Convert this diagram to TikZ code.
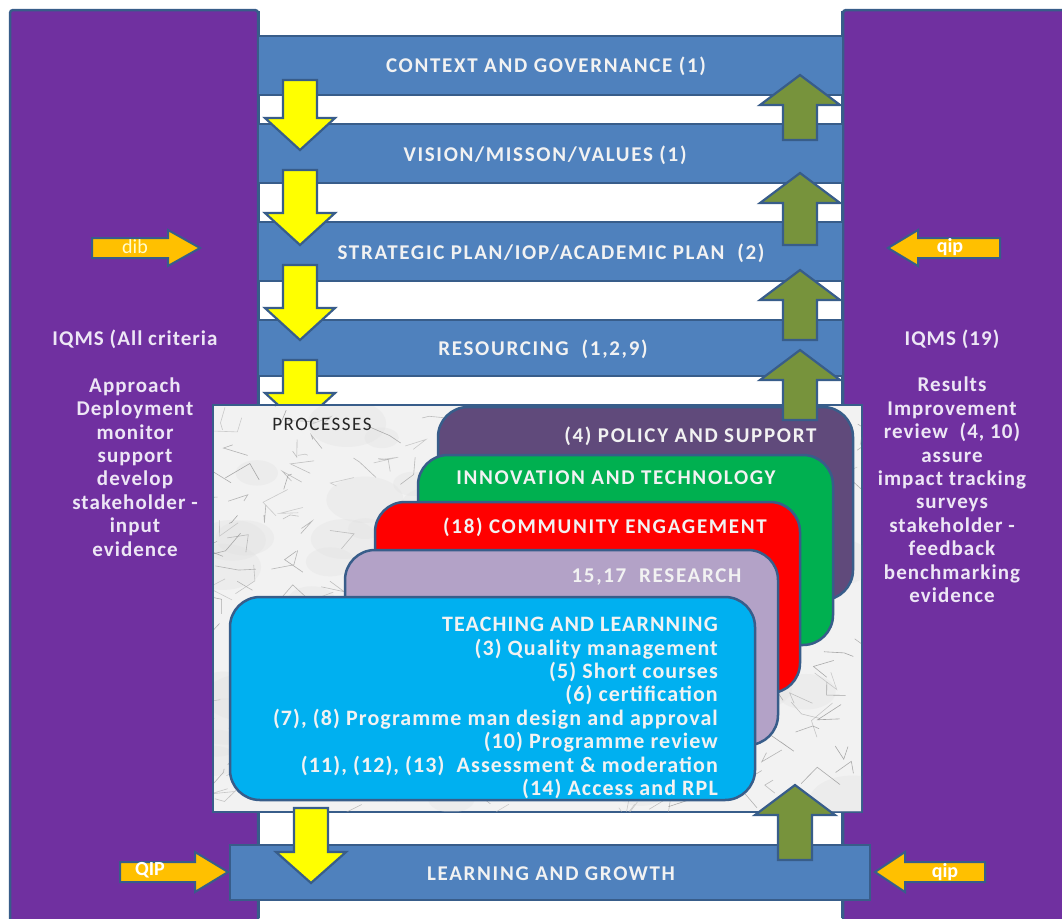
\documentclass[tikz,border=0pt]{standalone}
\usepackage{fontspec}
\setmainfont{Carlito}
\newfontfamily\bandfont[LetterSpace=8]{Carlito}
\newfontfamily\panelfont[LetterSpace=5]{Carlito}
\newfontfamily\teachfont[LetterSpace=5]{Carlito}
\newfontfamily\procfont[LetterSpace=8]{Carlito}
\definecolor{panelpurple}{HTML}{7030A0}
\definecolor{bandblue}{HTML}{4F81BD}
\definecolor{edgeblue}{HTML}{385D8A}
\definecolor{arrowyellow}{HTML}{FFFF00}
\definecolor{arrowgreen}{HTML}{77933C}
\definecolor{arroworange}{HTML}{FFC000}
\definecolor{policycol}{HTML}{604A7B}
\definecolor{innovcol}{HTML}{00B050}
\definecolor{commcol}{HTML}{FF0000}
\definecolor{rescol}{HTML}{B3A2C7}
\definecolor{teachcol}{HTML}{00B0F0}
\definecolor{paneltext}{HTML}{EDE6F5}
\definecolor{bandtext}{HTML}{F2F2F2}
\newcommand\ydownarrow[4]{% cx, top, headbase, tip
  \draw[edgeblue, line width=2.2pt, fill=arrowyellow, line join=miter]
    (#1-17,#2) -- (#1+17,#2) -- (#1+17,#3) -- (#1+35,#3) -- (#1,#4) -- (#1-35,#3) -- (#1-17,#3) -- cycle;}
\newcommand\gteupward[4]{% cx, bottom, headbase, tip
  \draw[edgeblue, line width=2.2pt, fill=arrowgreen, line join=miter]
    (#1-17,#2) -- (#1+17,#2) -- (#1+17,#3) -- (#1+40,#3) -- (#1,#4) -- (#1-40,#3) -- (#1-17,#3) -- cycle;}
\tikzset{
  bandbox/.style={draw=edgeblue, line width=2.5pt, fill=bandblue},
  bandlabel/.style={text=bandtext, font=\bandfont\bfseries\fontsize{21}{24}\selectfont},
  paneltxt/.style={text=paneltext, align=center, font=\panelfont\bfseries\fontsize{21}{23.4}\selectfont},
  procbox/.style={draw=edgeblue, line width=2.5pt, rounded corners=30},
  proclabel/.style={text=bandtext, font=\bandfont\bfseries\fontsize{21}{24}\selectfont},
  orangearrow/.style={draw=edgeblue, line width=2pt, fill=arroworange, line join=miter},
  orangelabel/.style={text=white, font=\bfseries\fontsize{20}{22}\selectfont}
}
\begin{document}
\begin{tikzpicture}[x=1pt,y=-1pt]
\useasboundingbox[fill=white] (0,0) rectangle (1062,918);
% side panels
\draw[draw=edgeblue, line width=2.5pt, fill=panelpurple, rounded corners=3] (10,10) rectangle (258,930);
\draw[draw=edgeblue, line width=2.5pt, fill=panelpurple, rounded corners=3] (843,10) rectangle (1075,930);
% central white column
\fill[white] (259,11) rectangle (842,918);
\draw[edgeblue, line width=1.5pt] (259,11) -- (259,918) (842,11) -- (842,918);
% bands
\draw[bandbox] (258,36) rectangle (843,95);
\node[bandlabel] (ctx) at (546,66) {CONTEXT AND GOVERNANCE (1)};
\draw[bandbox] (258,124) rectangle (843,183);
\node[bandlabel] (vis) at (545,155) {VISION/MISSON/VALUES (1)};
\draw[bandbox] (258,222) rectangle (843,281);
\node[bandlabel] (str) at (551,253) {STRATEGIC PLAN/IOP/ACADEMIC PLAN\ \ (2)};
\draw[bandbox] (258,320) rectangle (843,376);
\node[bandlabel] (res) at (543,349) {RESOURCING\ \ (1,2,9)};
% arrows between bands
\ydownarrow{300}{80}{118}{150}
\ydownarrow{300}{170}{213}{245}
\ydownarrow{300}{265}{308}{340}
\ydownarrow{300}{360}{393}{425}
% processes box (marble)
\draw[edgeblue, line width=2.5pt, fill=gray!10] (213,405) rectangle (862,812);
\begin{scope}
  \clip (214,406) rectangle (861,811);
  \pgfmathsetseed{11}
  \foreach \i in {1,...,70}{
    \pgfmathsetmacro\xa{213+rnd*650}
    \pgfmathsetmacro\ya{405+rnd*407}
    \pgfmathsetmacro\ra{15+rnd*30}
    \fill[gray!25, opacity=0.3] (\xa,\ya) ellipse ({\ra} and {\ra*0.6});
  }
  \foreach \i in {1,...,300}{
    \pgfmathsetmacro\xa{213+rnd*650}
    \pgfmathsetmacro\ya{405+rnd*407}
    \pgfmathsetmacro\dxa{25*rand}
    \pgfmathsetmacro\dya{18*rand}
    \pgfmathsetmacro\dxb{25*rand}
    \pgfmathsetmacro\dyb{18*rand}
    \pgfmathsetmacro\gv{30+25*rnd}
    \draw[black!\gv, line width=0.6pt, line cap=round, opacity=0.6] (\xa,\ya) -- ++(\dxa,\dya) -- ++(\dxb,\dyb);
  }
\end{scope}
\node[text=black!85, font=\procfont\fontsize{19}{22}\selectfont] (proc) at (322,424) {PROCESSES};
% process cards
\draw[procbox, fill=policycol] (438,407) rectangle (853,600);
\node[proclabel, anchor=east] (pol) at (820,436) {(4) POLICY AND SUPPORT};
\draw[procbox, fill=innovcol] (418,455) rectangle (833,645);
\node[proclabel] (inn) at (616,478) {INNOVATION AND TECHNOLOGY};
\draw[procbox, fill=commcol] (375,502) rectangle (800,693);
\node[proclabel] (com) at (605,527) {(18) COMMUNITY ENGAGEMENT};
\draw[procbox, fill=rescol] (345,550) rectangle (778,745);
\node[proclabel, anchor=east] (rsh) at (745,577) {15,17\ \ RESEARCH};
\draw[procbox, fill=teachcol] (230,597) rectangle (755,800);
\node[text=bandtext, anchor=north east, align=right, inner sep=0pt,
      font=\teachfont\bfseries\fontsize{22}{23.4}\selectfont] (tl) at (718,617)
  {TEACHING AND LEARNNING\\(3) Quality management\\(5) Short courses\\(6) certification\\(7), (8) Programme man design and approval\\(10) Programme review\\(11), (12), (13)\ \ Assessment \& moderation\\(14) Access and RPL};
% green up arrows
\gteupward{800}{140}{105}{75}
\gteupward{800}{245}{203}{173}
\gteupward{800}{340}{300}{270}
\gteupward{800}{420}{380}{350}
% bottom band
\draw[bandbox] (230,845) rectangle (870,900);
\node[bandlabel] (lg) at (551,874) {LEARNING AND GROWTH};
\ydownarrow{311}{808}{852}{883}
\gteupward{795}{860}{815}{785}
% side texts
\node[paneltxt] (lefttxt) at (135,443) {IQMS (All criteria\\[23.4pt]Approach\\Deployment\\monitor\\support\\develop\\stakeholder -\\input\\evidence};
\node[paneltxt] (righttxt) at (952,466) {IQMS (19)\\[23.4pt]Results\\Improvement\\review\ \ (4, 10)\\assure\\impact tracking\\surveys\\stakeholder -\\feedback\\benchmarking\\evidence};
% orange side arrows
\draw[orangearrow] (92,238) -- (168,238) -- (168,230) -- (200,248) -- (168,266) -- (168,258) -- (92,258) -- cycle;
\node[text=yellow!20, font=\fontsize{20}{22}\selectfont] (dib) at (135,247) {dib};
\draw[orangearrow] (1000,238) -- (918,238) -- (918,230) -- (888,248) -- (918,266) -- (918,258) -- (1000,258) -- cycle;
\node[orangelabel] (qipr) at (950,247) {qip};
\draw[orangearrow] (120,862) -- (195,862) -- (195,852) -- (228,872) -- (195,892) -- (195,882) -- (120,882) -- cycle;
\node[orangelabel] (qipl) at (150,870) {QIP};
\draw[orangearrow] (985,862) -- (905,862) -- (905,852) -- (875,872) -- (905,892) -- (905,882) -- (985,882) -- cycle;
\node[orangelabel] (qipb) at (945,872) {qip};
\end{tikzpicture}
\end{document}
